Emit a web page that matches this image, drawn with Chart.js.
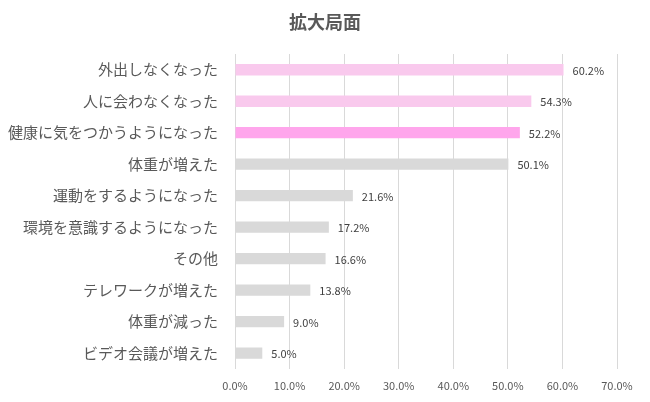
<!DOCTYPE html>
<html>
<head>
<meta charset="utf-8">
<script src="https://cdn.jsdelivr.net/npm/chart.js@4"></script>
<style>
  html, body { margin: 0; padding: 0; background: #fff; }
  #wrap { width: 650px; height: 402px; }
</style>
</head>
<body>
<div id="wrap"><canvas id="myChart"></canvas></div>
<script>
// data
const chartTitle = '拡大局面';
const categories = ['外出しなくなった', '人に会わなくなった', '健康に気をつかうようになった', '体重が増えた',
  '運動をするようになった', '環境を意識するようになった', 'その他', 'テレワークが増えた', '体重が減った', 'ビデオ会議が増えた'];
const values = [60.2, 54.3, 52.2, 50.1, 21.6, 17.2, 16.6, 13.8, 9.0, 5.0];
const barColors = ['#F9C9ED', '#F9C9ED', '#FFA6EC', '#D9D9D9', '#D9D9D9', '#D9D9D9', '#D9D9D9', '#D9D9D9', '#D9D9D9', '#D9D9D9'];
const xTicks = [0, 10, 20, 30, 40, 50, 60, 70];

const fontFam = '"Noto Sans CJK JP", "Noto Sans", sans-serif';

// value labels at bar ends + title centred on the whole canvas
const valueLabels = {
  id: 'valueLabels',
  afterDatasetsDraw(chart) {
    const ctx = chart.ctx;
    const meta = chart.getDatasetMeta(0);
    ctx.save();
    ctx.font = '11px ' + fontFam;
    ctx.fillStyle = '#404040';
    ctx.textAlign = 'left';
    ctx.textBaseline = 'middle';
    meta.data.forEach((bar, i) => {
      ctx.fillText(values[i].toFixed(1) + '%', bar.x + 9, bar.y + 1);
    });
    ctx.font = 'bold 18px ' + fontFam;
    ctx.fillStyle = '#595959';
    ctx.textAlign = 'center';
    ctx.fillText(chartTitle, chart.width / 2, 22);
    ctx.restore();
  }
};

const bar = document.getElementById('myChart');
new Chart(bar, {
  type: 'bar',
  data: {
    labels: categories,
    datasets: [{
      data: values,
      backgroundColor: barColors,
      borderWidth: 0,
      categoryPercentage: 1,
      barPercentage: 0.36,
    }]
  },
  options: {
    indexAxis: 'y',
    responsive: true,
    maintainAspectRatio: false,
    animation: false,
    layout: { padding: { left: 0, right: 33, top: 54, bottom: 0 } },
    plugins: {
      legend: { display: false },
      tooltip: { enabled: false },
      title: { display: false }
    },
    scales: {
      x: {
        min: 0,
        max: 70,
        afterBuildTicks: (axis) => { axis.ticks = xTicks.map(v => ({ value: v })); },
        grid: { color: '#D9D9D9', drawTicks: false },
        border: { display: false },
        ticks: {
          padding: 10,
          color: '#595959',
          font: { family: fontFam, size: 11 },
          callback: (v) => Number(v).toFixed(1) + '%'
        }
      },
      y: {
        afterFit: (axis) => { axis.width = 235; },
        grid: { display: false, drawTicks: false },
        border: { display: false },
        ticks: {
          padding: 17,
          color: '#595959',
          font: { family: fontFam, size: 15 }
        }
      }
    }
  },
  plugins: [valueLabels]
});
</script>
</body>
</html>
